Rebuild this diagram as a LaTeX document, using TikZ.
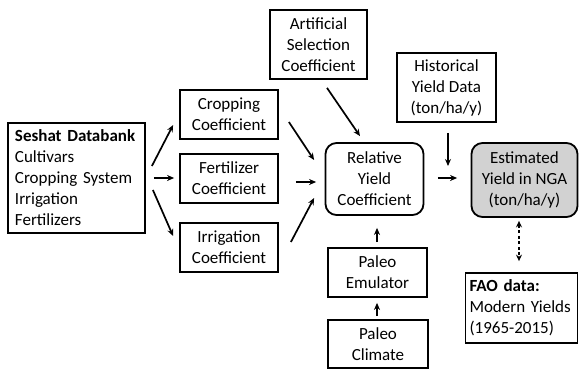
\documentclass[tikz,border=0pt]{standalone}
\usepackage{fontspec}
\setmainfont{Carlito}
\usetikzlibrary{arrows.meta}
\begin{document}
\begin{tikzpicture}[x=1pt,y=-1pt,
  every node/.style={font=\fontsize{17}{21}\selectfont},
  box/.style={draw=black,line width=1.8pt,align=center,inner sep=2pt},
  rbox/.style={box,rounded corners=11pt},
  arr/.style={line width=1.7pt,-{Stealth[length=7pt,width=6pt]}},
  darr/.style={line width=1.4pt,dashed,dash pattern=on 3pt off 2.5pt,{Stealth[length=6.5pt,width=6pt]}-{Stealth[length=6.5pt,width=6pt]}}]
\useasboundingbox (0,0) rectangle (579,370);
\node[box,minimum width=137pt,minimum height=110pt,align=left,text width=123pt] (seshat) at (76.5,178)
  {\textbf{Seshat Databank}\\Cultivars\\Cropping System\\Irrigation\\Fertilizers};
\node[box,minimum width=98pt,minimum height=49pt] (crop) at (229,114.5) {Cropping\\Coefficient};
\node[box,minimum width=98pt,minimum height=49pt] (fert) at (229,178.5) {Fertilizer\\Coefficient};
\node[box,minimum width=98pt,minimum height=49pt] (irr) at (229,247.5) {Irrigation\\Coefficient};
\node[box,minimum width=97pt,minimum height=69pt] (art) at (318.5,44.5) {Artificial\\Selection\\Coefficient};
\node[rbox,minimum width=98pt,minimum height=72pt] (rel) at (374.5,179) {Relative\\Yield\\Coefficient};
\node[box,minimum width=99pt,minimum height=69pt] (hist) at (446.5,87.5) {Historical\\Yield Data\\(ton/ha/y)};
\node[rbox,fill={rgb,255:red,210;green,210;blue,210},minimum width=106pt,minimum height=74pt] (est) at (524.5,180) {Estimated\\Yield in NGA\\(ton/ha/y)};
\node[box,minimum width=112pt,minimum height=70pt,align=left,text width=104pt] (fao) at (521.5,308) {\textbf{FAO data:}\\Modern Yields\\(1965-2015)};
\node[box,minimum width=99pt,minimum height=49pt] (emu) at (377.5,272.5) {Paleo\\Emulator};
\node[box,minimum width=100pt,minimum height=48pt] (clim) at (378,344) {Paleo\\Climate};
\coordinate (histend) at (448,166);
\draw[arr] ([xshift=6pt,yshift=12pt]seshat.east) -- ([xshift=-6pt,yshift=-10.5pt]crop.west);
\draw[arr] ([xshift=8pt]seshat.east) -- ([xshift=-5pt,yshift=0.5pt]fert.west);
\draw[arr] ([xshift=7pt,yshift=-12pt]seshat.east) -- ([xshift=-6pt,yshift=11.5pt]irr.west);
\draw[arr] ([xshift=10pt,yshift=-7.5pt]crop.east) -- ([xshift=-10.5pt,yshift=19pt]rel.west);
\draw[arr] ([xshift=17pt,yshift=-3.5pt]fert.east) -- ([xshift=-8.5pt,yshift=-3pt]rel.west);
\draw[arr] ([xshift=12pt,yshift=5.5pt]irr.east) -- ([xshift=-10.5pt,yshift=-19pt]rel.west);
\draw[arr] ([xshift=8.5pt,yshift=-8pt]art.south) -- ([xshift=-14.5pt,yshift=6pt]rel.north);
\draw[arr] ([xshift=1.5pt,yshift=-10pt]hist.south) -- (histend);
\draw[arr] ([xshift=13.5pt,yshift=1pt]rel.east) -- ([xshift=-13.5pt,yshift=2pt]est.west);
\draw[arr] ([xshift=-0.5pt,yshift=5pt]emu.north) -- ([xshift=2.5pt,yshift=-12pt]rel.south);
\draw[arr] ([xshift=-1pt,yshift=3pt]clim.north) -- ([xshift=-0.5pt,yshift=-5pt]emu.south);
\draw[darr] ([xshift=-5.5pt,yshift=-3pt]est.south) -- ([xshift=-2.5pt,yshift=11pt]fao.north);
\end{tikzpicture}
\end{document}
